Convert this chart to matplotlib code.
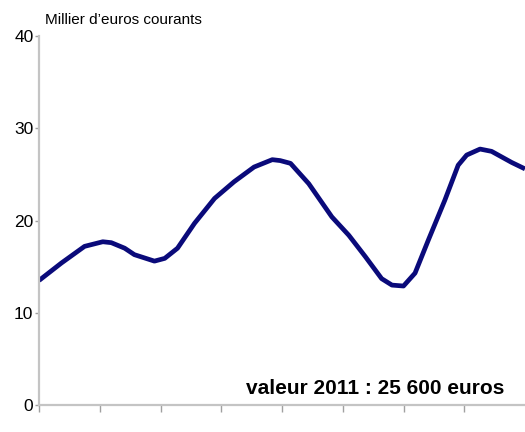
import matplotlib.pyplot as plt

# valeurs (milliers d'euros courants)
x_pos = [0, 0.37, 0.75, 1.05, 1.19, 1.41, 1.57, 1.90, 2.07, 2.28, 2.56, 2.89, 3.21,
         3.54, 3.84, 3.97, 4.14, 4.44, 4.82, 5.10, 5.37, 5.64, 5.81, 6.0, 6.19,
         6.41, 6.68, 6.90, 7.04, 7.26, 7.45, 7.78, 8.0]
valeurs = [13.5, 15.4, 17.2, 17.7, 17.6, 17.0, 16.3, 15.6, 15.9, 17.0, 19.7, 22.4, 24.2,
           25.8, 26.6, 26.5, 26.2, 24.0, 20.4, 18.4, 16.1, 13.7, 13.0, 12.9, 14.3,
           17.9, 22.2, 26.0, 27.1, 27.75, 27.5, 26.3, 25.6]
y_ticks = [0, 10, 20, 30, 40]
x_ticks = [0, 1, 2, 3, 4, 5, 6, 7]

plt.rcParams['font.family'] = ['Liberation Sans', 'DejaVu Sans']

fig = plt.figure(figsize=(5.25, 4.32), dpi=100)
ax = fig.add_axes([0.0743, 0.0625, 0.9257, 0.854])

ax.plot(x_pos, valeurs, color='#0a0a7a', lw=3.4, solid_joinstyle='round',
        solid_capstyle='butt')

ax.set_xlim(0, 8)
ax.set_ylim(0, 40)
ax.set_yticks(y_ticks)
ax.set_xticks(x_ticks)
ax.set_xticklabels([])

for s in ['top', 'right']:
    ax.spines[s].set_visible(False)
for s in ['left', 'bottom']:
    ax.spines[s].set_color('#c4c4c4')
    ax.spines[s].set_linewidth(1.6)

ax.tick_params(axis='y', length=3, width=1, color='#a0a0a0', labelsize=12.5, pad=1)
ax.tick_params(axis='x', length=5, width=1, color='#a0a0a0')

fig.text(0.086, 0.945, 'Millier d\u2019euros courants', fontsize=11)
ax.text(0.958, 0.02, 'valeur 2011 : 25 600 euros', transform=ax.transAxes,
        ha='right', va='bottom', fontsize=15, fontweight='bold')

fig.savefig('out.png', dpi=100)
